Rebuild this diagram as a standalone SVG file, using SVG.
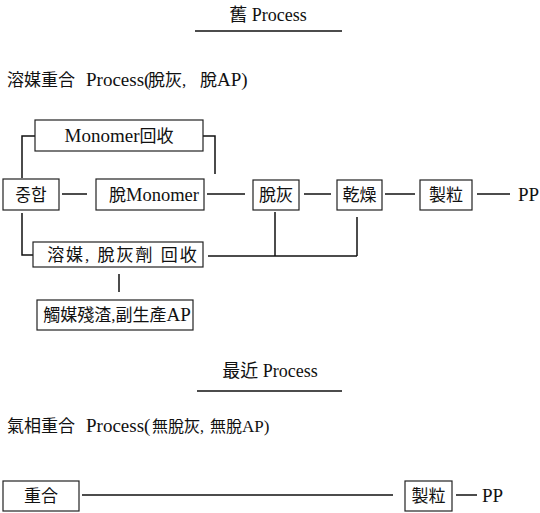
<svg xmlns="http://www.w3.org/2000/svg" width="540" height="513" viewBox="0 0 540 513">
<style>
text{font-family:"Liberation Serif","Noto Sans CJK KR",serif;fill:#111;font-size:17px}
.c{text-anchor:middle}
.L{font-size:19px}
.t{font-size:18px}
.box{fill:#fff;stroke:#222;stroke-width:1.2}
.ln{fill:none;stroke:#111;stroke-width:1.5}
</style>
<rect width="540" height="513" fill="#fff"/>
<g id="title1">
<text x="268" y="21" class="c t">舊 Process</text>
<line x1="195" y1="31" x2="342" y2="31" class="ln" stroke-width="1"/>
</g>
<text y="86"><tspan x="7">溶媒重合</tspan><tspan x="86" class="L">Process(</tspan><tspan x="148">脫灰,</tspan><tspan x="200">脫</tspan><tspan class="L">AP)</tspan></text>
<g id="connectors">
<polyline class="ln" points="35,136 22,136 22,178"/>
<polyline class="ln" points="203,136 215,136 215,174"/>
<line class="ln" x1="62" y1="194" x2="87" y2="194"/>
<line class="ln" x1="207" y1="194" x2="245" y2="194"/>
<line class="ln" x1="304" y1="194" x2="331" y2="194"/>
<line class="ln" x1="385" y1="194" x2="415" y2="194"/>
<line class="ln" x1="477" y1="194" x2="510" y2="194"/>
<polyline class="ln" points="22,213 22,255 33,255"/>
<line class="ln" x1="208" y1="256" x2="357" y2="256"/>
<line class="ln" x1="275" y1="212" x2="275" y2="256"/>
<line class="ln" x1="357" y1="217" x2="357" y2="256"/>
<line class="ln" x1="119" y1="274" x2="119" y2="292"/>
<line class="ln" x1="82" y1="495" x2="393" y2="495"/>
<line class="ln" x1="456" y1="495" x2="477" y2="495"/>
</g>
<g id="n-monomer-recovery"><rect class="box" x="35" y="120" width="168" height="31"/><text x="119" y="142" class="c"><tspan class="L">Monomer</tspan>回收</text></g>
<g id="n-polymerization"><rect class="box" x="3" y="179" width="56" height="31"/><text x="31" y="201" class="c">중합</text></g>
<g id="n-demonomer"><rect class="box" x="96" y="179" width="108" height="31"/><text x="154" y="201" class="c">脫<tspan font-size="18.5">Monomer</tspan></text></g>
<g id="n-deash"><rect class="box" x="253" y="180" width="46" height="30"/><text x="276" y="201" class="c">脫灰</text></g>
<g id="n-dry"><rect class="box" x="337" y="180" width="45" height="30"/><text x="359.5" y="201" class="c">乾燥</text></g>
<g id="n-pellet"><rect class="box" x="420" y="180" width="52" height="30"/><text x="446" y="201" class="c">製粒</text></g>
<g id="n-pp"><text x="518" y="201" class="L">PP</text></g>
<g id="n-solvent-recovery"><rect class="box" x="33" y="242" width="170" height="25"/><text x="123" y="261" class="c" letter-spacing="2">溶媒, 脫灰劑 回收</text></g>
<g id="n-residue"><rect class="box" x="37" y="300" width="156" height="30"/><text x="117" y="321" class="c" font-size="16">觸媒殘渣,副生產<tspan class="L">AP</tspan></text></g>
<g id="title2">
<text x="270" y="377" class="c t">最近 Process</text>
<line x1="197" y1="391" x2="342" y2="391" class="ln" stroke-width="1"/>
</g>
<text y="432"><tspan x="7">氣相重合</tspan><tspan x="86" class="L">Process(</tspan><tspan x="152" font-size="16">無脫灰,</tspan><tspan x="210" font-size="16">無脫</tspan><tspan font-size="17">AP)</tspan></text>
<g id="n-polymer2"><rect class="box" x="3" y="481" width="76" height="30"/><text x="41" y="502" class="c">重合</text></g>
<g id="n-pellet2"><rect class="box" x="405" y="481" width="47" height="30"/><text x="428.5" y="502" class="c">製粒</text></g>
<g id="n-pp2"><text x="482" y="502" class="L">PP</text></g>
</svg>
